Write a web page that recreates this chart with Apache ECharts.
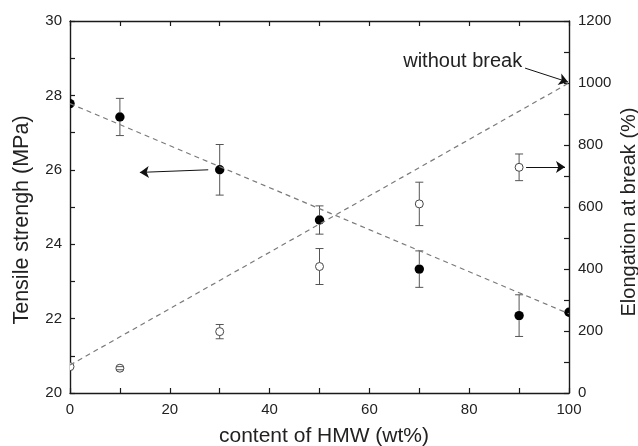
<!DOCTYPE html>
<html>
<head>
<meta charset="utf-8">
<script src="https://cdn.jsdelivr.net/npm/echarts@6/dist/echarts.min.js"></script>
<style>
  html, body { margin: 0; padding: 0; background: #fff; }
  #chart { width: 638px; height: 446px; }
</style>
</head>
<body>
<div id="chart"></div>
<script>
// values
const hmw = [0, 10, 30, 50, 70, 90, 100];
const tensile = [27.78, 27.42, 26.0, 24.65, 23.33, 22.08, 22.17];
const tensileErr = [0, 0.5, 0.68, 0.38, 0.49, 0.56, 0];

const hmwElong = [0, 10, 30, 50, 70, 90];
const elongation = [85, 80, 198, 408, 610, 728];
const elongErr = [0, 5, 23, 58, 70, 43];

// dashed trend lines (end points)
const fitX = [0, 100];
const tensileFit = [27.78, 22.13];
const elongFit = [90, 1000];

const FONT = '"Liberation Sans", Arial, sans-serif';
const TXT = '#222';
const AX = '#1a1a1a';

const chart = echarts.init(document.getElementById('chart'));

// point + Origin style error bar (bars start at the symbol edge)
function pointRenderer(filled) {
  return function (params, api) {
    const x = api.value(0), y = api.value(1), e = api.value(2);
    const c = api.coord([x, y]);
    const r = filled ? 4.7 : 4;
    const children = [{
      type: 'circle',
      shape: { cx: c[0], cy: c[1], r: r },
      style: filled ? { fill: '#000' } : { fill: '#fff', stroke: '#444', lineWidth: 1 }
    }];
    if (e > 0) {
      const t = api.coord([x, y + e])[1];
      const b = api.coord([x, y - e])[1];
      const st = { stroke: '#555', lineWidth: 1 };
      if (t < c[1] - r) children.push({ type: 'line', shape: { x1: c[0], y1: c[1] - r, x2: c[0], y2: t }, style: st });
      if (b > c[1] + r) children.push({ type: 'line', shape: { x1: c[0], y1: c[1] + r, x2: c[0], y2: b }, style: st });
      children.push({ type: 'line', shape: { x1: c[0] - 4, y1: t, x2: c[0] + 4, y2: t }, style: st });
      children.push({ type: 'line', shape: { x1: c[0] - 4, y1: b, x2: c[0] + 4, y2: b }, style: st });
    }
    return { type: 'group', children: children };
  };
}

const tickCommon = {
  axisLine: { show: true, onZero: false, lineStyle: { color: AX, width: 1.4 } },
  axisTick: { show: true, inside: true, length: 5, lineStyle: { color: AX, width: 1.2 } },
  minorTick: { show: true, splitNumber: 2, length: 5, lineStyle: { color: AX, width: 1.2 } },
  splitLine: { show: false },
  minorSplitLine: { show: false }
};

const plain = v => String(v);
const arrowLine = { color: '#111', width: 1, type: 'solid' };

const option = {
  animation: false,
  grid: { left: 70, right: 69, top: 21, bottom: 53, containLabel: false, outerBoundsMode: 'none' },
  xAxis: [
    Object.assign({
      type: 'value', position: 'bottom', min: 0, max: 100, interval: 20,
      name: 'content of HMW (wt%)', nameLocation: 'middle', nameGap: 33,
      nameTextStyle: { fontSize: 21, color: TXT, fontFamily: FONT, padding: [0, 0, 0, 9] },
      axisLabel: { fontSize: 15, color: TXT, fontFamily: FONT, margin: 9, formatter: plain }
    }, tickCommon),
    Object.assign({
      type: 'value', position: 'top', min: 0, max: 100, interval: 20,
      axisLabel: { show: false }
    }, tickCommon)
  ],
  yAxis: [
    Object.assign({
      type: 'value', position: 'left', min: 20, max: 30, interval: 2,
      name: 'Tensile strengh (MPa)', nameLocation: 'middle', nameGap: 37, nameRotate: 90,
      nameTextStyle: { fontSize: 21.5, color: TXT, fontFamily: FONT, padding: [0, 26, 0, 0] },
      axisLabel: { fontSize: 15, color: TXT, fontFamily: FONT, margin: 8, formatter: plain }
    }, tickCommon),
    Object.assign({
      type: 'value', position: 'right', min: 0, max: 1200, interval: 200,
      name: 'Elongation at break (%)', nameLocation: 'middle', nameGap: 50, nameRotate: 90,
      nameMoveOverlap: false,
      nameTextStyle: { fontSize: 20, color: TXT, fontFamily: FONT, padding: [0, 10, 0, 0] },
      axisLabel: { fontSize: 15, color: TXT, fontFamily: FONT, margin: 9, formatter: plain }
    }, tickCommon)
  ],
  series: [
    {
      type: 'line', xAxisIndex: 0, yAxisIndex: 0,
      data: fitX.map((x, i) => [x, tensileFit[i]]),
      showSymbol: false, silent: true,
      lineStyle: { color: '#7a7a7a', width: 1.2, type: [5, 4] },
      markLine: {
        silent: true, symbol: ['none', 'arrow'], symbolSize: 9,
        label: { show: false }, lineStyle: arrowLine,
        data: [[{ coord: [27.7, 26.0] }, { coord: [14, 25.93] }]]
      }
    },
    {
      type: 'line', xAxisIndex: 0, yAxisIndex: 1,
      data: fitX.map((x, i) => [x, elongFit[i]]),
      showSymbol: false, silent: true,
      lineStyle: { color: '#7a7a7a', width: 1.2, type: [5, 4] },
      markLine: {
        silent: true, symbol: ['none', 'arrow'], symbolSize: 9,
        label: { show: false }, lineStyle: arrowLine,
        data: [
          [{ coord: [91.4, 729] }, { coord: [99.2, 729] }],
          [{ coord: [91.2, 1048] }, { coord: [99.8, 1003] }]
        ]
      },
      markPoint: {
        silent: true,
        data: [{
          coord: [78.7, 1071], symbol: 'circle', symbolSize: 0,
          label: {
            show: true, position: 'inside', formatter: 'without break',
            fontSize: 20, color: TXT, fontFamily: FONT
          }
        }]
      }
    },
    {
      type: 'custom', xAxisIndex: 0, yAxisIndex: 0, clip: true,
      renderItem: pointRenderer(true),
      encode: { x: 0, y: 1 },
      data: hmw.map((x, i) => [x, tensile[i], tensileErr[i]])
    },
    {
      type: 'custom', xAxisIndex: 0, yAxisIndex: 1, clip: true,
      renderItem: pointRenderer(false),
      encode: { x: 0, y: 1 },
      data: hmwElong.map((x, i) => [x, elongation[i], elongErr[i]])
    }
  ]
};

chart.setOption(option);
</script>
</body>
</html>
